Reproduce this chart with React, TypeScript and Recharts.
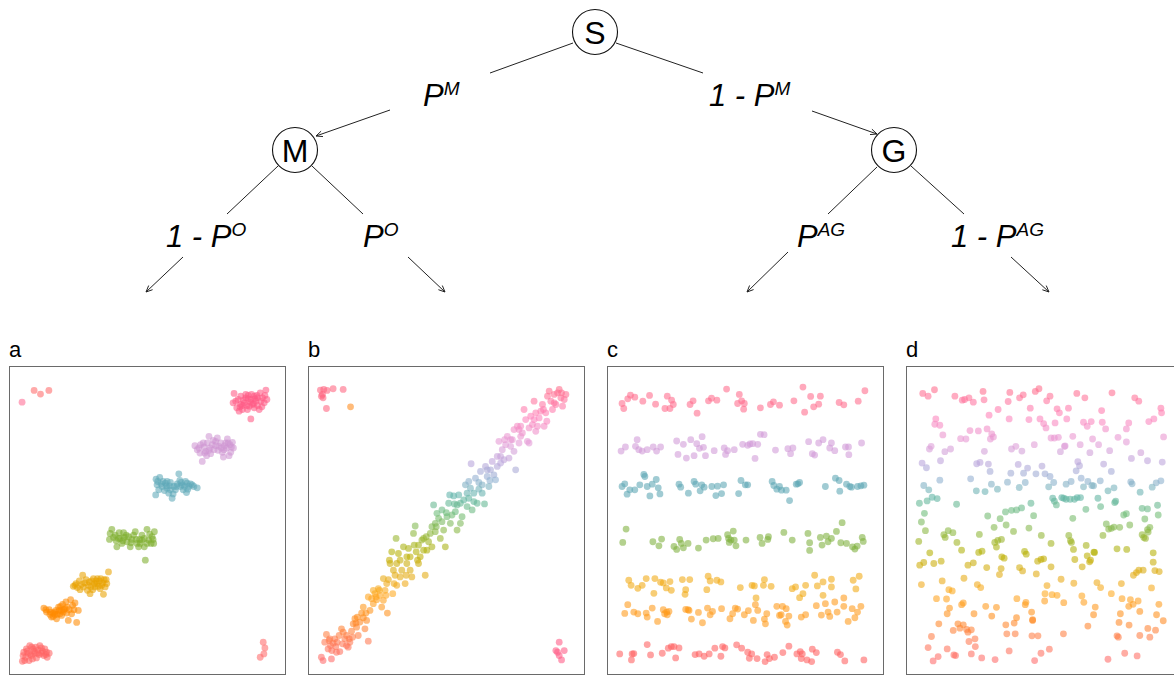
import React from 'react';
import { ScatterChart, Scatter, XAxis, YAxis } from 'recharts';

type P = [number, number];

// ---------- Tree diagram data ----------
const NODES = [
  { x: 595, y: 32, label: 'S' },
  { x: 295, y: 150, label: 'M' },
  { x: 894, y: 150, label: 'G' },
];
const EDGE_LINES: [number, number, number, number][] = [
  [573, 43, 490, 73],
  [616, 43, 703, 73],
  [278, 166, 227, 214],
  [312, 166, 363, 214],
  [877, 167, 828, 214],
  [911, 166, 964, 214],
];
const ARROWS: [number, number, number, number][] = [
  [390, 110, 316, 136],
  [812, 111, 877, 134],
  [183, 257, 146, 292],
  [408, 257, 445, 292],
  [788, 252, 747, 292],
  [1011, 257, 1049, 292],
];
const EDGE_LABELS = [
  { x: 423, y: 106, main: 'P', sup: 'M' },
  { x: 709, y: 106, main: '1 - P', sup: 'M' },
  { x: 166, y: 247, main: '1 - P', sup: 'O' },
  { x: 363, y: 247, main: 'P', sup: 'O' },
  { x: 797, y: 247, main: 'P', sup: 'AG' },
  { x: 951, y: 247, main: '1 - P', sup: 'AG' },
];
const PANEL_LABELS = [
  { x: 9, y: 357, label: 'a' },
  { x: 308, y: 357, label: 'b' },
  { x: 607, y: 357, label: 'c' },
  { x: 906, y: 357, label: 'd' },
];

// ---------- Panel a ----------
const A_CORNER_RED: P[] = [[103, 183], [122, 194], [147, 183], [787, 935], [792, 952], [789, 970], [778, 980]];
const A_CORNER_PINK: P[] = [[67, 218]];
const A_PINK: P[] = [[700,192],[697,220],[712,210],[720,225],[735,205],[742,198],[750,210],[760,200],[770,205],[778,190],[785,205],[795,182],[798,210],[783,232],[775,240],[750,268],[740,240],[725,240],[715,245],[730,220],[755,225],[765,215],[708,235],[745,230],[760,235],[790,220],[770,228],[720,200],[735,195],[752,195],[728,212],[762,208],[705,215],[718,232],[738,228],[748,218],[758,222],[768,198],[780,215],[792,198],[725,228],[742,208]];
const A_LAV: P[] = [[583,348],[590,360],[598,370],[605,395],[610,352],[620,340],[625,320],[635,345],[645,335],[650,325],[655,350],[662,355],[668,382],[675,340],[680,328],[688,345],[695,338],[698,355],[690,368],[685,378],[640,360],[630,372],[615,365],[600,345],[660,340],[670,360],[645,348],[628,355],[612,370],[678,355],[595,355],[608,340],[618,378],[638,332],[652,362],[665,368],[682,340],[692,352],[625,362],[672,348]];
const A_TEAL: P[] = [[467,448],[470,465],[466,495],[478,443],[485,470],[495,460],[500,475],[505,490],[510,458],[515,505],[520,470],[530,462],[535,432],[540,470],[548,480],[555,455],[560,460],[565,470],[570,462],[580,470],[590,474],[545,465],[525,480],[488,455],[475,480],[558,488],[510,480],[500,455],[538,452],[518,492],[472,455],[482,462],[492,482],[508,468],[528,470],[542,458],[552,470],[562,478],[575,465],[498,468]];
const A_GREEN: P[] = [[335,598],[328,628],[330,610],[345,615],[350,650],[360,625],[370,608],[380,635],[385,620],[395,628],[405,605],[410,640],[418,628],[425,615],[432,650],[440,598],[445,630],[455,620],[462,605],[460,640],[435,690],[348,632],[365,640],[390,650],[400,615],[415,650],[452,640],[372,622],[425,630],[440,640],[357,608],[340,622],[355,625],[378,615],[392,638],[408,628],[420,640],[448,612],[458,628],[368,632],[432,625]];
const A_YELLOW: P[] = [[220,768],[228,760],[238,752],[248,735],[250,770],[258,748],[265,765],[270,790],[275,752],[280,745],[285,770],[290,760],[298,752],[305,765],[310,792],[315,770],[320,760],[325,725],[318,748],[300,775],[262,780],[240,778],[278,778],[292,745],[312,748],[255,758],[232,772],[308,758],[225,765],[245,762],[268,755],[283,760],[295,768],[302,745],[272,770],[288,752]];
const A_ORANGE: P[] = [[132,833],[140,845],[148,838],[155,860],[160,848],[165,845],[172,852],[178,840],[182,828],[188,822],[195,835],[200,848],[205,870],[212,808],[218,825],[225,818],[230,876],[235,840],[170,865],[185,855],[190,845],[208,838],[198,815],[160,858],[150,852],[176,830],[222,838],[215,850],[138,838],[152,845],[168,840],[180,850],[192,838],[202,830],[165,852],[185,840]];
const A_RED: P[] = [[68,992],[72,965],[78,980],[85,968],[90,945],[95,975],[100,955],[105,968],[110,982],[115,958],[120,945],[128,962],[132,975],[140,965],[148,968],[142,980],[98,985],[80,955],[88,990],[118,972],[125,952],[108,950],[75,990],[135,955],[70,975],[82,962],[92,972],[103,962],[113,968],[125,968],[138,972],[96,950]];

// ---------- Panel b ----------
const B_CORNER_RED: P[] = [[62,182],[72,180],[82,183],[68,195],[70,205],[65,200],[100,178],[130,180],[80,237]];
const B_CORNER_ORANGE: P[] = [[152,232]];
const B_CORNER_PINK: P[] = [[775,935],[765,960],[775,975],[790,960],[782,988],[770,965]];
const B_BAND: P[] = [[65,980],[70,990],[95,985],[75,935],[80,912],[88,930],[92,945],[100,938],[105,925],[110,965],[120,963],[118,915],[125,895],[130,905],[135,925],[140,945],[145,950],[150,935],[155,902],[160,880],[165,865],[170,890],[175,915],[180,875],[185,848],[190,862],[195,895],[200,870],[205,932],[210,840],[215,805],[220,820],[225,790],[230,808],[235,775],[240,795],[245,830],[250,810],[255,780],[260,760],[262,848],[265,748],[270,700],[275,665],[278,790],[280,720],[285,735],[288,625],[290,765],[295,670],[300,690],[305,720],[310,650],[315,760],[320,700],[325,655],[330,680],[335,740],[340,610],[345,588],[348,665],[352,690],[355,645],[360,680],[365,630],[370,625],[375,735],[380,660],[385,635],[390,610],[395,590],[400,525],[405,580],[410,550],[415,565],[420,625],[425,540],[430,600],[435,650],[440,560],[445,520],[450,580],[455,555],[460,498],[465,545],[470,600],[475,495],[480,520],[485,560],[490,510],[495,465],[500,490],[505,455],[510,475],[512,402],[515,540],[520,490],[525,445],[530,520],[535,458],[540,425],[545,465],[552,522],[555,410],[560,440],[565,470],[570,420],[575,395],[580,435],[585,450],[590,410],[595,335],[600,380],[605,360],[610,390],[615,345],[620,320],[625,385],[630,350],[635,330],[640,365],[645,420],[650,290],[655,300],[660,320],[665,310],[670,240],[675,270],[680,335],[685,295],[690,260],[695,285],[700,215],[705,250],[710,290],[715,265],[720,245],[725,225],[730,290],[735,250],[740,200],[745,185],[750,215],[755,240],[760,195],[765,225],[770,190],[775,180],[780,205],[785,230],[790,210],[795,195],[738,275],[705,305],[685,340],[655,340],[640,300],[612,330],[590,380],[568,452],[545,490],[520,515],[500,530],[480,580],[462,522],[448,495],[425,575],[405,605],[395,650],[370,660],[355,700],[330,720],[318,735],[300,740],[282,760],[268,690],[250,745],[238,780],[220,780],[205,800],[190,830],[172,860],[158,920],[140,915],[128,940],[112,935],[96,960],[85,955],[90,925],[108,948],[148,925],[168,878],[198,848],[228,800],[258,795],[290,700],[320,680],[342,645],[378,620],[408,590],[438,548],[470,525],[505,505],[535,478],[560,420],[600,400],[630,330],[660,290],[700,270],[728,240],[760,220],[782,190]];

// ---------- Panel c ----------
const C_PINK: P[] = [[65,222],[70,237],[82,208],[90,197],[103,203],[127,215],[147,198],[165,224],[193,237],[200,200],[208,237],[213,212],[218,225],[268,225],[277,214],[289,251],[323,214],[332,206],[348,212],[377,179],[410,222],[415,195],[422,214],[428,239],[430,222],[478,235],[508,225],[517,217],[535,227],[578,214],[605,173],[610,248],[628,201],[637,232],[652,224],[657,200],[713,219],[727,226],[770,215],[790,184]];
const C_LAV: P[] = [[62,364],[75,352],[105,350],[110,330],[115,360],[125,364],[140,360],[158,352],[168,364],[180,352],[228,334],[232,374],[248,344],[257,385],[270,330],[280,378],[288,342],[296,356],[304,321],[308,353],[314,378],[340,363],[370,355],[374,374],[380,363],[400,360],[425,344],[440,347],[447,343],[455,342],[462,386],[470,344],[478,314],[489,315],[523,361],[560,357],[568,372],[575,355],[622,336],[633,372],[640,376],[652,340],[665,330],[685,355],[690,340],[700,363],[732,352],[741,352],[742,375],[780,340]];
const C_TEAL: P[] = [[65,470],[73,462],[80,493],[88,480],[103,480],[118,465],[130,434],[133,440],[140,470],[148,498],[155,463],[167,449],[173,474],[178,492],[235,463],[240,472],[263,490],[280,455],[285,463],[298,483],[303,465],[310,472],[333,470],[345,497],[350,469],[362,491],[368,465],[413,491],[420,452],[433,465],[440,465],[513,455],[518,467],[527,478],[535,470],[541,481],[555,481],[565,512],[585,463],[590,462],[595,458],[672,470],[702,445],[713,452],[715,484],[735,463],[745,470],[750,472],[768,470],[778,468],[787,466]];
const C_GREEN: P[] = [[77,597],[67,637],[157,635],[175,647],[183,627],[220,649],[228,658],[237,628],[242,640],[248,653],[262,640],[293,654],[316,630],[337,626],[352,625],[380,614],[383,625],[385,637],[390,630],[397,603],[400,630],[405,647],[435,630],[477,622],[483,640],[500,628],[502,620],[548,607],[573,630],[620,610],[625,638],[625,661],[657,622],[662,645],[675,618],[680,635],[690,625],[705,604],[718,638],[722,578],[735,640],[753,650],[760,657],[767,648],[782,622],[785,634]];
const C_YELLOW: P[] = [[85,750],[92,765],[112,774],[125,765],[137,745],[160,789],[163,745],[180,756],[188,758],[197,773],[208,754],[212,780],[245,748],[255,778],[253,792],[267,748],[318,778],[322,738],[328,752],[348,750],[360,755],[418,772],[453,765],[460,767],[487,765],[490,748],[510,768],[465,803],[573,775],[583,770],[595,802],[605,790],[613,765],[640,735],[648,767],[665,755],[665,795],[690,747],[690,770],[755,750],[763,776],[773,738]];
const C_ORANGE: P[] = [[73,849],[82,823],[100,845],[112,850],[137,848],[140,860],[155,833],[171,873],[188,838],[192,850],[198,845],[205,843],[200,853],[255,837],[262,838],[265,840],[272,866],[293,846],[305,877],[320,833],[328,853],[335,843],[362,835],[387,865],[395,850],[403,833],[410,836],[430,853],[442,841],[457,870],[463,823],[470,840],[490,866],[497,850],[493,880],[527,828],[535,855],[544,828],[540,853],[555,835],[553,873],[558,884],[563,857],[600,860],[613,853],[645,826],[660,854],[672,820],[680,845],[685,858],[700,815],[707,845],[727,803],[727,828],[740,873],[752,835],[760,862],[768,845],[778,828]];
const C_RED: P[] = [[58,970],[93,988],[95,970],[100,969],[140,942],[150,973],[185,968],[203,953],[212,948],[220,948],[225,982],[235,952],[283,972],[295,970],[310,977],[325,970],[342,953],[360,977],[365,948],[372,952],[407,943],[422,953],[440,965],[445,983],[452,970],[468,984],[492,993],[498,972],[505,984],[520,980],[545,966],[563,947],[587,970],[597,963],[600,984],[603,970],[617,988],[631,993],[633,956],[645,966],[708,965],[717,972],[730,991],[787,988]];

// ---------- Panel d ----------
const D_POINTS: P[] = [
  [97,192],[113,200],[132,181],[193,200],[215,212],[222,210],[235,205],[248,218],[277,186],[280,211],[295,257],[322,240],[357,189],[352,216],[355,268],[386,205],[397,196],[418,236],[414,270],[433,186],[444,178],[467,214],[477,200],[498,238],[505,250],[532,236],[527,268],[458,282],[447,268],[465,295],[492,280],[557,192],[581,205],[577,278],[600,276],[588,290],[631,243],[633,278],[643,298],[662,190],[712,280],[705,298],[730,205],[742,215],[772,276],[787,268],[808,236],[810,250],[816,322],[136,268],[133,284],[148,287],[157,316],[210,327],[226,328],[238,303],[263,304],[289,298],[299,328],[303,313],[308,322],[480,325],[490,325],[502,323],[545,320],[604,328],[680,323],[705,337],[622,345],[430,345],[520,350],[567,345],
  [117,358],[122,350],[163,366],[180,358],[281,365],[362,358],[375,350],[393,364],[95,400],[108,414],[150,393],[258,402],[268,398],[293,403],[298,425],[382,404],[410,415],[360,430],[398,430],[435,432],[453,409],[462,432],[477,440],[508,366],[522,349],[596,369],[655,363],[720,386],[748,369],[768,393],[812,397],[560,396],[565,408],[555,423],[637,403],[660,425],[590,455],[570,445],
  [100,467],[115,480],[148,451],[240,447],[257,483],[283,485],[302,463],[320,478],[350,457],[385,473],[403,458],[473,471],[488,458],[525,463],[540,455],[577,471],[602,467],[607,468],[627,453],[650,483],[668,474],[718,456],[722,462],[746,487],[782,472],[794,459],[808,453],[87,520],[110,513],[125,502],[140,506],[198,523],[485,505],[490,514],[496,525],[512,503],[518,505],[525,508],[537,508],[550,508],[558,503],[568,503],[620,505],[628,530],[670,518],[673,514],[584,538],[752,535],[768,537],[798,526],
  [102,550],[93,576],[105,602],[291,558],[328,566],[344,546],[362,541],[377,540],[392,534],[420,520],[428,557],[346,585],[310,592],[368,604],[414,594],[545,565],[266,613],[160,614],[164,622],[173,602],[187,608],[199,637],[85,634],[321,631],[332,628],[317,651],[312,637],[451,616],[480,640],[533,616],[538,632],[541,637],[547,658],[585,646],[608,666],[635,616],[645,582],[652,597],[660,595],[668,591],[685,592],[697,555],[705,551],[715,585],[760,567],[768,599],[775,592],[770,606],[752,614],[757,622],[762,625],[800,555],[677,656],[706,658],
  [213,660],[118,668],[100,697],[88,705],[130,700],[152,693],[232,705],[248,698],[264,667],[274,663],[288,712],[326,733],[331,715],[333,680],[340,684],[386,712],[395,722],[401,664],[406,672],[436,731],[440,693],[450,688],[458,686],[480,710],[551,688],[573,710],[588,677],[595,695],[598,690],[610,667],[785,668],[785,696],[790,721],[803,724],[742,720],[735,727],[726,735],[755,720],
  [93,763],[155,752],[175,778],[185,782],[220,744],[260,763],[270,772],[138,805],[168,806],[213,823],[218,818],[177,833],[170,850],[250,850],[285,828],[317,831],[303,857],[378,805],[403,823],[405,816],[422,845],[425,870],[462,790],[468,766],[483,793],[498,795],[510,747],[518,817],[461,812],[548,759],[572,797],[578,816],[617,757],[628,772],[660,790],[690,760],[692,805],[717,808],[712,828],[725,822],[740,812],[780,773],[802,822],[612,830],[607,853],[687,850],[795,853],[815,871],[145,880],[345,883],[370,878],[377,862],[348,910],[373,910],[425,868],[517,910],[590,887],[683,876],[713,884],[745,843],[769,894],[792,899],
  [188,900],[202,880],[208,893],[218,883],[228,897],[232,905],[242,898],[235,933],[253,925],[254,948],[123,918],[113,951],[128,991],[143,978],[170,955],[190,973],[195,975],[242,970],[273,982],[313,987],[355,961],[423,916],[441,916],[431,990],[450,968],[475,956],[650,986],[677,916],[681,920],[700,968],[737,976],[745,915],[775,920],
];

// panel frame domains (in reference-reading units)
const PANEL_Y: [number, number] = [110, 1033];
const PANEL_X_LEFT = [28, 25, 20, 47];
const PANEL_X_SPAN = 827;
const PANEL_LEFT_PX = [9, 308, 607, 906];

// colours
const GRAD_STOPS: [number, string][] = [
  [180, '#FF6A8A'], [260, '#FF80B8'], [340, '#E39AD6'], [400, '#B9A3DA'], [450, '#8FAFD0'],
  [500, '#5CB3A6'], [550, '#6DBB78'], [610, '#8DB63A'], [670, '#B6B000'], [730, '#E0AA10'],
  [790, '#FFA81E'], [860, '#FF8C1A'], [930, '#FF7A50'], [990, '#FF6A6A'],
];

function hex2rgb(h: string) {
  return [parseInt(h.slice(1, 3), 16), parseInt(h.slice(3, 5), 16), parseInt(h.slice(5, 7), 16)];
}
function gradColor(y: number) {
  if (y <= GRAD_STOPS[0][0]) return GRAD_STOPS[0][1];
  for (let i = 1; i < GRAD_STOPS.length; i++) {
    if (y <= GRAD_STOPS[i][0]) {
      const [y0, c0] = GRAD_STOPS[i - 1];
      const [y1, c1] = GRAD_STOPS[i];
      const t = (y - y0) / (y1 - y0);
      const a = hex2rgb(c0), b = hex2rgb(c1);
      const r = a.map((v, k) => Math.round(v + (b[k] - v) * t));
      return `rgb(${r[0]},${r[1]},${r[2]})`;
    }
  }
  return GRAD_STOPS[GRAD_STOPS.length - 1][1];
}

const FONT = '"Liberation Sans", Arial, sans-serif';
const R = 3.4;
const OP = 0.58;

const toObj = (arr: P[]) => arr.map(([x, y]) => ({ x, y }));

const dot = (color: string) => (p: any) => (
  <circle cx={p.cx} cy={p.cy} r={R} fill={color} fillOpacity={OP} />
);
const gradDot = (p: any) => (
  <circle cx={p.cx} cy={p.cy} r={R} fill={gradColor(p.payload.y)} fillOpacity={OP} />
);

const TREE_W = 1174;
const TREE_H = 366;

const NodeShape = (p: any) => (
  <g>
    <circle cx={p.cx} cy={p.cy} r={22.5} fill="#fff" stroke="#111" strokeWidth={1.1} />
    <text x={p.cx} y={p.cy + 11.5} textAnchor="middle" fontFamily={FONT} fontSize={32} fill="#000">
      {p.payload.label}
    </text>
  </g>
);

const EdgeLabelShape = (p: any) => (
  <text x={p.cx} y={p.cy} fontFamily={FONT} fontStyle="italic" fontSize={31} fill="#000">
    {p.payload.main}
    <tspan dy={-11} fontSize={19}>{p.payload.sup}</tspan>
  </text>
);

const PanelLabelShape = (p: any) => (
  <text x={p.cx} y={p.cy} fontFamily={FONT} fontSize={22} fill="#000">
    {p.payload.label}
  </text>
);

const ArrowShape = (p: any) => {
  if (!p.payload.head) return <g />;
  const a = Math.atan2(p.payload.dy, p.payload.dx);
  const L = 7, w = 0.42;
  const x1 = p.cx - L * Math.cos(a - w), y1 = p.cy - L * Math.sin(a - w);
  const x2 = p.cx - L * Math.cos(a + w), y2 = p.cy - L * Math.sin(a + w);
  return <path d={`M${x1},${y1} L${p.cx},${p.cy} L${x2},${y2}`} stroke="#222" strokeWidth={1} fill="none" />;
};

function Tree() {
  const lines = EDGE_LINES.map(([x1, y1, x2, y2]) => [
    { x: x1, y: y1, head: false, dx: 0, dy: 0 },
    { x: x2, y: y2, head: false, dx: 0, dy: 0 },
  ]);
  const arrows = ARROWS.map(([x1, y1, x2, y2]) => [
    { x: x1, y: y1, head: false, dx: 0, dy: 0 },
    { x: x2, y: y2, head: true, dx: x2 - x1, dy: y2 - y1 },
  ]);
  return (
    <ScatterChart width={TREE_W} height={TREE_H} margin={{ top: 0, right: 0, bottom: 0, left: 0 }}>
      <XAxis type="number" dataKey="x" domain={[0, TREE_W]} hide allowDataOverflow />
      <YAxis type="number" dataKey="y" domain={[0, TREE_H]} reversed hide allowDataOverflow />
      {lines.map((d, i) => (
        <Scatter key={'l' + i} data={d} line={{ stroke: '#222', strokeWidth: 1 }} shape={ArrowShape} isAnimationActive={false} />
      ))}
      {arrows.map((d, i) => (
        <Scatter key={'a' + i} data={d} line={{ stroke: '#222', strokeWidth: 1 }} shape={ArrowShape} isAnimationActive={false} />
      ))}
      <Scatter data={NODES} shape={NodeShape} isAnimationActive={false} />
      <Scatter data={EDGE_LABELS} shape={EdgeLabelShape} isAnimationActive={false} />
      <Scatter data={PANEL_LABELS} shape={PanelLabelShape} isAnimationActive={false} />
    </ScatterChart>
  );
}

function Panel({ idx, children }: { idx: number; children: React.ReactNode }) {
  const left = PANEL_X_LEFT[idx];
  return (
    <div style={{ position: 'absolute', left: PANEL_LEFT_PX[idx], top: 366, width: 277, height: 309 }}>
      <ScatterChart width={277} height={309} margin={{ top: 0, right: 0, bottom: 0, left: 0 }}>
        <XAxis type="number" dataKey="x" domain={[left, left + PANEL_X_SPAN]} hide allowDataOverflow />
        <YAxis type="number" dataKey="y" domain={PANEL_Y} reversed hide allowDataOverflow />
        {children}
      </ScatterChart>
      <div style={{ position: 'absolute', left: 0, top: 0, width: 277, height: 309, boxSizing: 'border-box', border: '1.3px solid #6a6a6a', pointerEvents: 'none' }} />
    </div>
  );
}

export default function App() {
  return (
    <div style={{ position: 'absolute', left: 0, top: 0, width: 1174, height: 676, overflow: 'hidden', background: '#fff' }}>
      <div style={{ position: 'absolute', left: 0, top: 0 }}>
        <Tree />
      </div>
      <Panel idx={0}>
        <Scatter data={toObj(A_CORNER_PINK)} shape={dot('#FF6D95')} isAnimationActive={false} />
        <Scatter data={toObj(A_CORNER_RED)} shape={dot('#FF6A6A')} isAnimationActive={false} />
        <Scatter data={toObj(A_RED)} shape={dot('#FF6464')} isAnimationActive={false} />
        <Scatter data={toObj(A_ORANGE)} shape={dot('#FF8A00')} isAnimationActive={false} />
        <Scatter data={toObj(A_YELLOW)} shape={dot('#E9A200')} isAnimationActive={false} />
        <Scatter data={toObj(A_GREEN)} shape={dot('#7DAE2C')} isAnimationActive={false} />
        <Scatter data={toObj(A_TEAL)} shape={dot('#5EA8B8')} isAnimationActive={false} />
        <Scatter data={toObj(A_LAV)} shape={dot('#CE96D2')} isAnimationActive={false} />
        <Scatter data={toObj(A_PINK)} shape={dot('#FF5A85')} isAnimationActive={false} />
      </Panel>
      <Panel idx={1}>
        <Scatter data={toObj(B_CORNER_RED)} shape={dot('#FF6480')} isAnimationActive={false} />
        <Scatter data={toObj(B_CORNER_ORANGE)} shape={dot('#FF8A1A')} isAnimationActive={false} />
        <Scatter data={toObj(B_CORNER_PINK)} shape={dot('#FF5A85')} isAnimationActive={false} />
        <Scatter data={toObj(B_BAND)} shape={gradDot} isAnimationActive={false} />
      </Panel>
      <Panel idx={2}>
        <Scatter data={toObj(C_PINK)} shape={dot('#FF6A8C')} isAnimationActive={false} />
        <Scatter data={toObj(C_LAV)} shape={dot('#D09AD8')} isAnimationActive={false} />
        <Scatter data={toObj(C_TEAL)} shape={dot('#5BA6B4')} isAnimationActive={false} />
        <Scatter data={toObj(C_GREEN)} shape={dot('#7DAF3C')} isAnimationActive={false} />
        <Scatter data={toObj(C_YELLOW)} shape={dot('#F2A812')} isAnimationActive={false} />
        <Scatter data={toObj(C_ORANGE)} shape={dot('#FF9A18')} isAnimationActive={false} />
        <Scatter data={toObj(C_RED)} shape={dot('#FF5E5E')} isAnimationActive={false} />
      </Panel>
      <Panel idx={3}>
        <Scatter data={toObj(D_POINTS)} shape={gradDot} isAnimationActive={false} />
      </Panel>
    </div>
  );
}
